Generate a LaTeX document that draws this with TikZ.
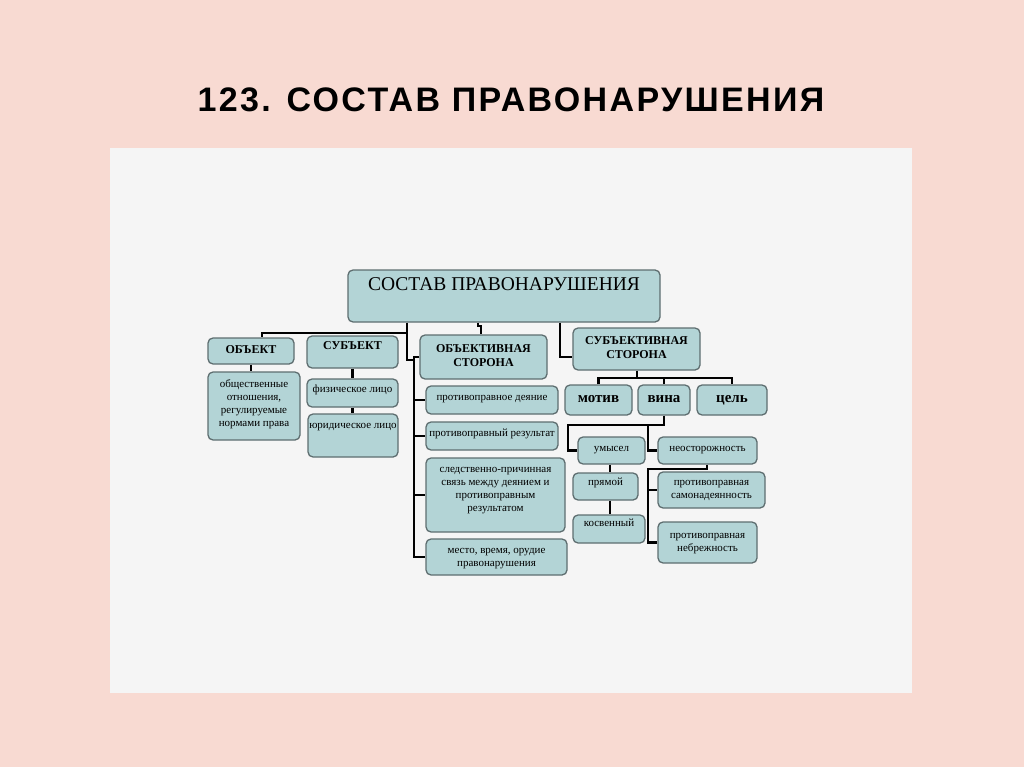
\documentclass[tikz,border=0pt]{standalone}
\usepackage{fontspec}
\setmainfont{Liberation Serif}
\newfontfamily\titlefont[LetterSpace=7]{Liberation Sans}
\definecolor{bgpink}{HTML}{F8DAD2}
\definecolor{panelc}{HTML}{F5F5F5}
\definecolor{boxc}{HTML}{B3D4D6}
\definecolor{boxb}{HTML}{5E6E70}
\newcommand\tx[2]{\raisebox{#1}[\height][\depth]{\begin{tabular}{@{}c@{}}#2\end{tabular}}}
\newcommand\bx[8][]{\node[box,#1,minimum width={#5pt-#3pt},minimum height={#6pt-#4pt}] (#2) at ({(#3+#5)/2},{(#4+#6)/2}) {\tx{#7}{#8}};}
\tikzset{
  box/.style={draw=boxb, fill=boxc, line width=1.3pt, rounded corners=5pt, inner sep=0pt},
  sm/.style={font=\fontsize{11}{13}\selectfont},
  hd/.style={font=\fontsize{12}{14}\selectfont\bfseries},
  big/.style={font=\fontsize{15}{17}\selectfont\bfseries},
  mainf/.style={font=\fontsize{19.5}{22}\selectfont},
  conn/.style={line width=2.9pt, black},
}
\begin{document}
\begin{tikzpicture}[x=1pt,y=-1pt]
\fill[bgpink] (0,0) rectangle (1024,767);
\useasboundingbox (0,0) rectangle (1024,767);
\fill[panelc] (110,148) rectangle (912,693);
\node[font=\titlefont\bfseries\fontsize{34}{40}\selectfont] (title) at (511,100) {123. СОСТАВ ПРАВОНАРУШЕНИЯ};

\bx[mainf]{main}{348}{270}{660}{322}{10pt}{СОСТАВ ПРАВОНАРУШЕНИЯ}
\bx[hd]{obj}{208}{338}{294}{364}{0pt}{ОБЪЕКТ}
\bx[sm]{rel}{208}{372}{300}{440}{2pt}{общественные\\отношения,\\регулируемые\\нормами права}
\bx[hd]{subj}{307}{336}{398}{368}{5pt}{СУБЪЕКТ}
\bx[sm]{phys}{307}{379}{398}{407}{3pt}{физическое лицо}
\bx[sm]{jur}{308}{414}{398}{457}{10pt}{юридическое лицо}
\bx[hd]{objside}{420}{335}{547}{379}{0pt}{ОБЪЕКТИВНАЯ\\СТОРОНА}
\bx[sm]{act}{426}{386}{558}{414}{2pt}{противоправное деяние}
\bx[sm]{res}{426}{422}{558}{450}{2pt}{противоправный результат}
\bx[sm]{cause}{426}{458}{565}{532}{6pt}{следственно-причинная\\связь между деянием и\\противоправным\\результатом}
\bx[sm]{place}{426}{539}{567}{575}{0pt}{место, время, орудие\\правонарушения}
\bx[hd]{subjside}{573}{328}{700}{370}{0pt}{СУБЪЕКТИВНАЯ\\СТОРОНА}
\bx[big]{motiv}{565}{385}{632}{415}{1pt}{мотив}
\bx[big]{vina}{638}{385}{690}{415}{1pt}{вина}
\bx[big]{cel}{697}{385}{767}{415}{1pt}{цель}
\bx[sm]{umysel}{578}{437}{645}{464}{2pt}{умысел}
\bx[sm]{neost}{658}{437}{757}{464}{2pt}{неосторожность}
\bx[sm]{pryam}{573}{473}{638}{500}{4pt}{прямой}
\bx[sm]{kosv}{573}{515}{645}{543}{5pt}{косвенный}
\bx[sm]{samon}{658}{472}{765}{508}{1pt}{противоправная\\самонадеянность}
\bx[sm]{nebr}{658}{522}{757}{563}{0pt}{противоправная\\небрежность}

% connectors
\coordinate (a1) at (407,333);
\coordinate (a0) at (262,333);
\coordinate (a2) at (407,360);
\coordinate (b0) at (414,357);
\coordinate (b1) at (414,360);
\draw[conn] (main.south -| a1) -- (a1) -- (a0) -- (obj.north -| a0);
\draw[conn] (a1) -- (a2) -- (b1);
\draw[conn] (objside.west) -- (objside.west -| b0) -- (place.west -| b0) -- (place.west);
\draw[conn] (act.west -| b0) -- (act.west);
\draw[conn] (res.west -| b0) -- (res.west);
\draw[conn] (cause.west -| b0) -- (cause.west);

\draw[conn] (obj.south) -- (obj.south |- rel.north);
\draw[conn] (subj.south) -- (subj.south |- phys.north);
\draw[conn] (phys.south) -- (phys.south |- jur.north);

\coordinate (c1) at (478,326);
\coordinate (c2) at (481,326);
\draw[conn] (main.south -| c1) -- (c1) -- (c2) -- (objside.north -| c2);

\coordinate (d1) at (560,357);
\draw[conn] (main.south -| d1) -- (d1) -- (subjside.west |- d1);

\coordinate (e0) at (637,378);
\draw[conn] (subjside.south -| e0) -- (e0);
\draw[conn] (motiv.north) -- (motiv.north |- e0) -- (cel.north |- e0) -- (cel.north);
\draw[conn] (vina.north) -- (vina.north |- e0);

\coordinate (f0) at (664,425);
\coordinate (f1) at (568,425);
\coordinate (f2) at (648,425);
\draw[conn] (vina.south) -- (vina.south |- f0) -- (f1) -- (f1 |- umysel.west) -- (umysel.west);
\draw[conn] (f2) -- (f2 |- neost.west) -- (neost.west);

\coordinate (g) at (610,0);
\draw[conn] (umysel.south -| g) -- (pryam.north -| g);
\draw[conn] (pryam.south -| g) -- (kosv.north -| g);

\coordinate (h0) at (707,469);
\coordinate (h1) at (648,469);
\draw[conn] (neost.south -| h0) -- (h0) -- (h1) -- (h1 |- nebr.west) -- (nebr.west);
\draw[conn] (samon.west -| h1) -- (samon.west);
\end{tikzpicture}
\end{document}
